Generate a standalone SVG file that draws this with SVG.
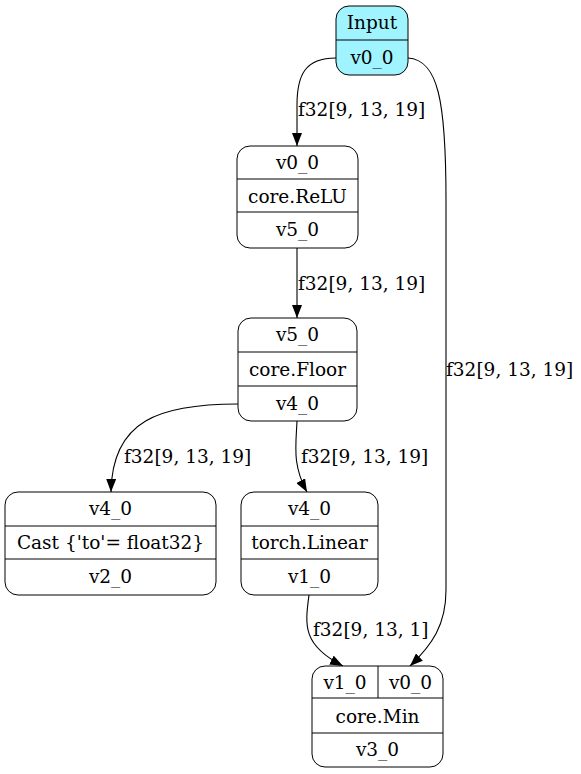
<svg xmlns="http://www.w3.org/2000/svg" width="581" height="774" viewBox="0 0 581 774">
<defs>
<style>
.n{fill:#ffffff;stroke:#000;stroke-width:1}
.in{fill:#a0f4ff;stroke:#000;stroke-width:1}
.d{stroke:#000;stroke-width:1;fill:none}
text{font-family:"DejaVu Serif","Liberation Serif",serif;font-size:18.5px;fill:#000}
.c{text-anchor:middle}
.e{fill:none;stroke:#000;stroke-width:1.1}
</style>
<marker id="ah" viewBox="0 0 13 10" refX="13" refY="5" markerWidth="13" markerHeight="10" markerUnits="userSpaceOnUse" orient="auto">
<path d="M0,0 L13,5 L0,10 z" fill="#000"/>
</marker>
</defs>
<rect width="581" height="774" fill="#fff"/>
<g id="edges">
<path class="e" marker-end="url(#ah)" d="M336,58 C305,58 297,75 297,105 L297,146"/>
<text x="298" y="116">f32[9, 13, 19]</text>
<path class="e" marker-end="url(#ah)" d="M297,248 L297,318"/>
<text x="298" y="290">f32[9, 13, 19]</text>
<path class="e" marker-end="url(#ah)" d="M408,58 C438,60 446,100 446,200 L446,590 C446,625 432,645 410,666"/>
<text x="446" y="376">f32[9, 13, 19]</text>
<path class="e" marker-end="url(#ah)" d="M238,404 C160,404 112,420 111,492"/>
<text x="124" y="463">f32[9, 13, 19]</text>
<path class="e" marker-end="url(#ah)" d="M297,421 C296,445 292,465 307,492"/>
<text x="301" y="463">f32[9, 13, 19]</text>
<path class="e" marker-end="url(#ah)" d="M309,595 C305,625 302,645 343,666"/>
<text x="313" y="636">f32[9, 13, 1]</text>
</g>
<g id="input">
<rect class="in" x="336" y="6" width="72" height="69" rx="13"/>
<line class="d" x1="336" y1="40" x2="408" y2="40"/>
<text class="c" x="372" y="29">Input</text>
<text class="c" x="372" y="64">v0_0</text>
</g>
<g id="relu">
<rect class="n" x="237" y="146" width="121" height="102" rx="13"/>
<line class="d" x1="237" y1="179" x2="358" y2="179"/>
<line class="d" x1="237" y1="212" x2="358" y2="212"/>
<text class="c" x="297.5" y="169">v0_0</text>
<text class="c" x="297.5" y="203">core.ReLU</text>
<text class="c" x="297.5" y="236">v5_0</text>
</g>
<g id="floor">
<rect class="n" x="238" y="318" width="119" height="103" rx="13"/>
<line class="d" x1="238" y1="352" x2="357" y2="352"/>
<line class="d" x1="238" y1="386" x2="357" y2="386"/>
<text class="c" x="297.5" y="341">v5_0</text>
<text class="c" x="297.5" y="376">core.Floor</text>
<text class="c" x="297.5" y="410">v4_0</text>
</g>
<g id="cast">
<rect class="n" x="5" y="492" width="211" height="103" rx="13"/>
<line class="d" x1="5" y1="526" x2="216" y2="526"/>
<line class="d" x1="5" y1="559" x2="216" y2="559"/>
<text class="c" x="110.5" y="515">v4_0</text>
<text class="c" x="110.5" y="549">Cast {'to'= float32}</text>
<text class="c" x="110.5" y="583">v2_0</text>
</g>
<g id="linear">
<rect class="n" x="241" y="492" width="137" height="103" rx="13"/>
<line class="d" x1="241" y1="526" x2="378" y2="526"/>
<line class="d" x1="241" y1="559" x2="378" y2="559"/>
<text class="c" x="309.5" y="515">v4_0</text>
<text class="c" x="309.5" y="549">torch.Linear</text>
<text class="c" x="309.5" y="583">v1_0</text>
</g>
<g id="min">
<rect class="n" x="312" y="666" width="131" height="101" rx="13"/>
<line class="d" x1="312" y1="698" x2="443" y2="698"/>
<line class="d" x1="312" y1="733" x2="443" y2="733"/>
<line class="d" x1="378" y1="666" x2="378" y2="698"/>
<text class="c" x="345" y="689">v1_0</text>
<text class="c" x="410.5" y="689">v0_0</text>
<text class="c" x="377.5" y="723">core.Min</text>
<text class="c" x="377.5" y="756">v3_0</text>
</g>
</svg>
